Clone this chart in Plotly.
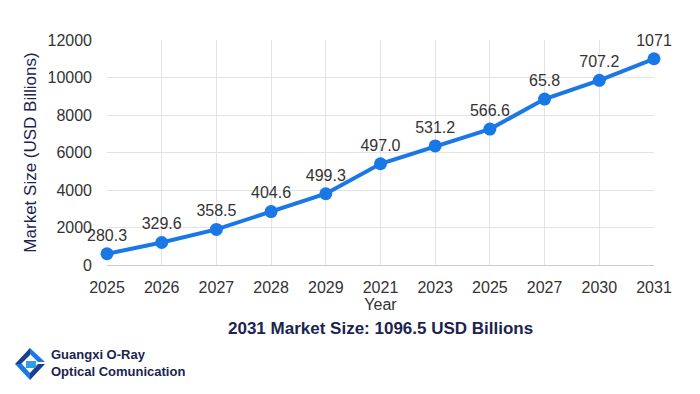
import plotly.graph_objects as go

years = ["2025", "2026", "2027", "2028", "2029", "2021", "2023", "2025", "2027", "2030", "2031"]
market_size = [600, 1200, 1900, 2850, 3800, 5400, 6350, 7250, 8850, 9850, 11000]
point_labels = ["280.3", "329.6", "358.5", "404.6", "499.3", "497.0", "531.2", "566.6", "65.8", "707.2", "1071"]
y_ticks = [0, 2000, 4000, 6000, 8000, 10000, 12000]
y_tick_text = ["0", "2000", "4000", "6000", "8000", "10000", "12000"]

positions = list(range(len(years)))

OFF = 8  # page body margin
W, H = 700 - OFF, 394 - OFF
L, T = 107 - OFF, 40 - OFF
pw, ph = 547, 225
R, B = W - L - pw, H - T - ph

def px(x):
    return (x - OFF - L) / pw

def py(y):
    return (T + ph - (y - OFF)) / ph

fig = go.Figure()
fig.add_trace(go.Scatter(
    x=positions, y=market_size,
    mode="lines+markers+text",
    line=dict(color="#1a78e6", width=4),
    marker=dict(color="#1a78e6", size=13),
    text=point_labels, textposition="top center",
    textfont=dict(family="Liberation Sans, Arial", size=16, color="#333333"),
    cliponaxis=False, hoverinfo="skip",
))

navy = "#1b2450"
fig.update_layout(
    width=W, height=H,
    margin=dict(l=L, r=R, t=T, b=B, autoexpand=False),
    paper_bgcolor="white", plot_bgcolor="white",
    showlegend=False,
    font=dict(family="Liberation Sans, Arial", size=15, color="#333333"),
    xaxis=dict(
        range=[0, len(years) - 1], tickvals=positions, ticktext=years,
        showgrid=True, gridcolor="#e3e3e3", gridwidth=1,
        zeroline=False, showline=False, ticks="", automargin=False,
        ticklabelstandoff=11,
        tickfont=dict(size=16, color="#333333"),
        title=dict(text="Year", font=dict(size=16, color="#333333"), standoff=3),
    ),
    yaxis=dict(
        range=[0, 12000], tickvals=y_ticks, ticktext=y_tick_text,
        showgrid=True, gridcolor="#e3e3e3", gridwidth=1,
        zeroline=True, zerolinecolor="#cccccc", zerolinewidth=1,
        showline=False, ticks="", automargin=False,
        ticklabelstandoff=14,
        tickfont=dict(size=16, color="#333333"),
        title=dict(text="Market Size (USD Billions)", font=dict(size=17, color=navy), standoff=6),
    ),
)

fig.add_annotation(
    x=0.5, y=py(328), xref="paper", yref="paper",
    text="<b>2031 Market Size: 1096.5 USD Billions</b>", showarrow=False,
    font=dict(family="Liberation Sans Narrow, Liberation Sans, Arial", size=17, color=navy),
    xanchor="center", yanchor="middle",
)
fig.add_annotation(
    x=px(49), y=py(363), xref="paper", yref="paper",
    text="<b>Guangxi O-Ray<br>Optical Comunication</b>", showarrow=False, align="left",
    font=dict(family="Liberation Sans Narrow, Liberation Sans, Arial", size=13, color=navy),
    xanchor="left", yanchor="middle",
)

# simple logo icon
def path(points):
    return "M " + " L ".join(f"{px(a):.4f},{py(b):.4f}" for a, b in points) + " Z"

logo_parts = [
    ([(30, 348), (45, 362), (38, 362), (30, 354)], "#1a78e6"),
    ([(15, 364), (30, 348), (30, 355), (21, 364)], "#1b3f8f"),
    ([(15, 364), (30, 380), (30, 373), (22, 364)], "#1a78e6"),
    ([(30, 380), (45, 364), (38, 364), (30, 373)], "#1b3f8f"),
    ([(26, 361), (36, 361), (36, 368), (26, 368)], "#2fa0e8"),
]
for pts, col in logo_parts:
    fig.add_shape(type="path", path=path(pts), xref="paper", yref="paper",
                  fillcolor=col, line=dict(width=0), layer="above")

fig.write_html("out.html")
